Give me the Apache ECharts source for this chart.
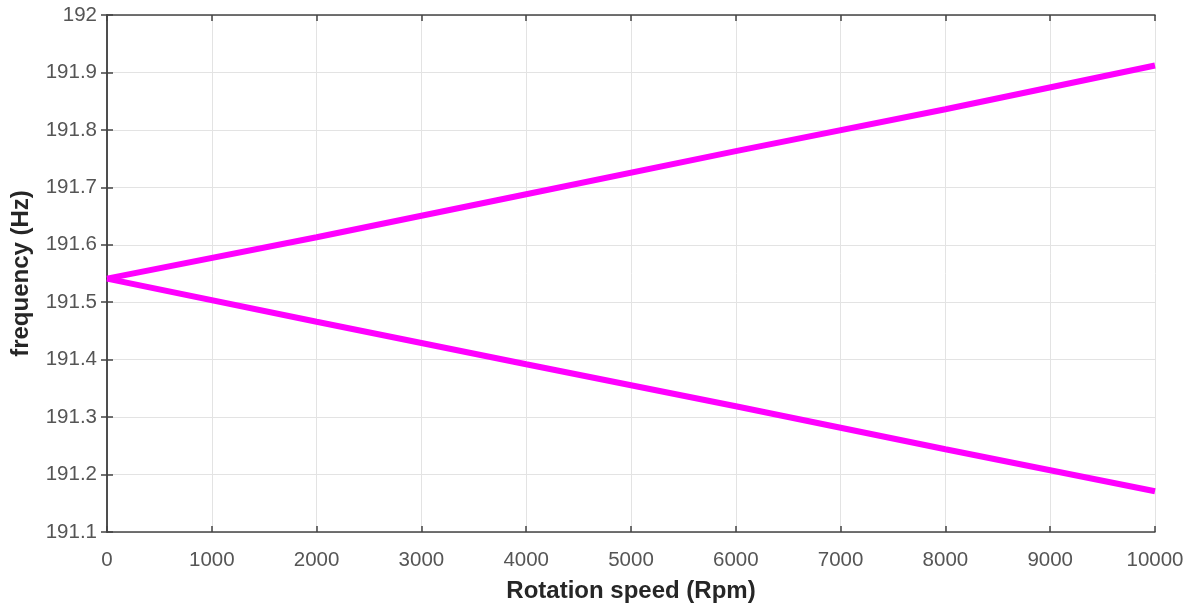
<!DOCTYPE html>
<html><head><meta charset="utf-8">
<script src="https://cdn.jsdelivr.net/npm/echarts@6/dist/echarts.min.js"></script>
<style>html,body{margin:0;padding:0;background:#fff}#c{width:1195px;height:608px}</style>
</head><body><div id="c"></div>
<script>
const speeds = [0, 2000, 4000, 6000, 8000, 10000];
const upperFreq = [191.541, 191.613, 191.688, 191.763, 191.836, 191.912];
const lowerFreq = [191.541, 191.466, 191.392, 191.319, 191.244, 191.171];
const xTicks = [0,1000,2000,3000,4000,5000,6000,7000,8000,9000,10000];
const yTicks = [191.1,191.2,191.3,191.4,191.5,191.6,191.7,191.8,191.9,192];

const chart = echarts.init(document.getElementById('c'));
const font = 'Liberation Sans, Arial, Helvetica, sans-serif';
const axisLine = {show:true, lineStyle:{color:'#444', width:1.5}};
const tick = {show:true, inside:true, length:6, lineStyle:{color:'#444', width:1.5}};
chart.setOption({
  animation:false,
  grid:{left:107, right:40, top:15, bottom:76, show:false},
  xAxis:[{
    type:'value', min:0, max:10000, interval:1000,
    name:'Rotation speed (Rpm)', nameLocation:'middle', nameGap:47,
    nameTextStyle:{fontFamily:font, fontSize:24, fontWeight:'bold', color:'#262626'},
    axisLine:axisLine, axisTick:tick,
    axisLabel:{fontFamily:font, fontSize:20.5, color:'#555', margin:18, formatter:v=>String(Math.round(v))},
    splitLine:{show:true, lineStyle:{color:'#e3e3e3', width:1}}
  },{
    type:'value', position:'top', min:0, max:10000, interval:1000,
    axisLine:axisLine, axisTick:tick,
    axisLabel:{show:false}, splitLine:{show:false}
  }],
  yAxis:[{
    type:'value', min:191.1, max:192, interval:0.1,
    name:'frequency (Hz)', nameLocation:'middle', nameGap:74,
    nameTextStyle:{fontFamily:font, fontSize:24, fontWeight:'bold', color:'#262626'},
    axisLine:axisLine, axisTick:tick,
    axisLabel:{fontFamily:font, fontSize:20.5, color:'#555', margin:10,
      formatter:v=>{const r=Math.round(v*10)/10; return r===192?'192':r.toFixed(1);}},
    splitLine:{show:true, lineStyle:{color:'#e3e3e3', width:1}}
  },{
    type:'value', position:'right', min:191.1, max:192, interval:0.1,
    axisLine:axisLine, axisTick:tick,
    axisLabel:{show:false}, splitLine:{show:false}
  }],
  series:[
    {type:'line', data:speeds.map((s,i)=>[s,upperFreq[i]]), showSymbol:false,
     lineStyle:{color:'#ff00ff', width:6}},
    {type:'line', data:speeds.map((s,i)=>[s,lowerFreq[i]]), showSymbol:false,
     lineStyle:{color:'#ff00ff', width:6}}
  ]
});
</script></body></html>
